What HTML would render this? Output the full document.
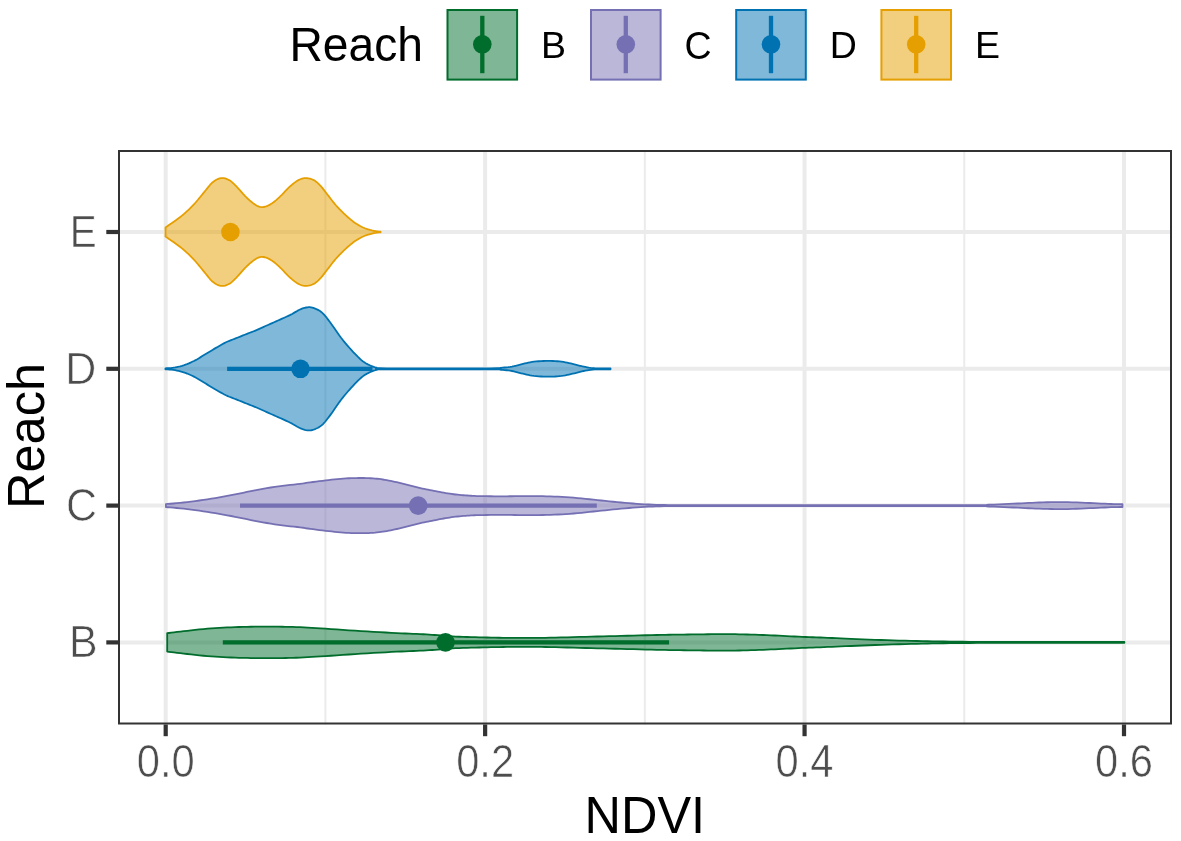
<!DOCTYPE html>
<html><head><meta charset="utf-8"><title>Reach NDVI violin plot</title>
<style>html,body{margin:0;padding:0;background:#fff;}svg{display:block;}</style></head>
<body><svg width="1181" height="841" viewBox="0 0 1181 841">
<rect width="1181" height="841" fill="#fff"/>
<line x1="325.42" y1="150" x2="325.42" y2="724.5" stroke="#EBEBEB" stroke-width="2.0"/>
<line x1="644.85" y1="150" x2="644.85" y2="724.5" stroke="#EBEBEB" stroke-width="2.0"/>
<line x1="964.28" y1="150" x2="964.28" y2="724.5" stroke="#EBEBEB" stroke-width="2.0"/>
<line x1="165.70" y1="150" x2="165.70" y2="724.5" stroke="#EBEBEB" stroke-width="4.0"/>
<line x1="485.13" y1="150" x2="485.13" y2="724.5" stroke="#EBEBEB" stroke-width="4.0"/>
<line x1="804.57" y1="150" x2="804.57" y2="724.5" stroke="#EBEBEB" stroke-width="4.0"/>
<line x1="1124.00" y1="150" x2="1124.00" y2="724.5" stroke="#EBEBEB" stroke-width="4.0"/>
<line x1="118" y1="232.00" x2="1172" y2="232.00" stroke="#EBEBEB" stroke-width="4.0"/>
<line x1="118" y1="368.80" x2="1172" y2="368.80" stroke="#EBEBEB" stroke-width="4.0"/>
<line x1="118" y1="505.60" x2="1172" y2="505.60" stroke="#EBEBEB" stroke-width="4.0"/>
<line x1="118" y1="642.40" x2="1172" y2="642.40" stroke="#EBEBEB" stroke-width="4.0"/>
<path d="M167.20,633.20 L168.91,632.99 L171.21,632.70 L173.97,632.36 L177.06,631.98 L180.34,631.59 L183.70,631.20 L187.23,630.80 L191.07,630.36 L195.10,629.91 L199.23,629.47 L203.37,629.06 L207.40,628.70 L211.35,628.39 L215.30,628.12 L219.25,627.88 L223.20,627.67 L227.15,627.47 L231.10,627.30 L235.05,627.15 L239.00,627.02 L242.95,626.91 L246.90,626.83 L250.85,626.76 L254.80,626.70 L258.78,626.66 L262.78,626.64 L266.79,626.63 L270.76,626.64 L274.68,626.66 L278.50,626.70 L282.16,626.74 L285.68,626.79 L289.13,626.86 L292.61,626.94 L296.20,627.05 L300.00,627.20 L303.91,627.38 L307.86,627.59 L311.93,627.83 L316.18,628.10 L320.71,628.39 L325.60,628.70 L330.94,629.05 L336.70,629.45 L342.73,629.87 L348.89,630.30 L355.06,630.71 L361.10,631.10 L367.17,631.47 L373.41,631.83 L379.66,632.19 L385.74,632.52 L391.48,632.83 L396.70,633.10 L401.36,633.32 L405.58,633.50 L409.46,633.66 L413.10,633.80 L416.58,633.94 L420.00,634.10 L423.28,634.27 L426.34,634.45 L429.24,634.62 L432.07,634.81 L434.90,635.00 L437.80,635.20 L440.70,635.42 L443.51,635.67 L446.33,635.92 L449.23,636.17 L452.29,636.40 L455.60,636.60 L459.21,636.76 L463.06,636.89 L467.08,637.01 L471.18,637.11 L475.28,637.20 L479.30,637.30 L483.25,637.40 L487.20,637.50 L491.15,637.59 L495.10,637.67 L499.05,637.74 L503.00,637.80 L506.95,637.84 L510.91,637.87 L514.88,637.89 L518.83,637.90 L522.77,637.91 L526.70,637.90 L530.46,637.89 L534.04,637.88 L537.61,637.86 L541.34,637.83 L545.41,637.78 L550.00,637.70 L555.22,637.59 L560.96,637.45 L567.04,637.29 L573.29,637.13 L579.53,636.96 L585.60,636.80 L591.52,636.65 L597.44,636.50 L603.35,636.35 L609.26,636.20 L615.18,636.05 L621.10,635.90 L627.17,635.74 L633.41,635.58 L639.66,635.42 L645.74,635.26 L651.48,635.12 L656.70,635.00 L661.29,634.90 L665.36,634.83 L669.09,634.76 L672.66,634.71 L676.24,634.66 L680.00,634.60 L683.93,634.54 L687.87,634.49 L691.83,634.44 L695.79,634.39 L699.75,634.34 L703.70,634.30 L707.65,634.25 L711.60,634.20 L715.55,634.15 L719.50,634.11 L723.45,634.09 L727.40,634.10 L731.35,634.14 L735.30,634.20 L739.25,634.28 L743.20,634.38 L747.15,634.49 L751.10,634.60 L755.05,634.72 L759.00,634.86 L762.95,635.01 L766.90,635.16 L770.85,635.33 L774.80,635.50 L778.78,635.69 L782.78,635.89 L786.79,636.11 L790.76,636.32 L794.68,636.52 L798.50,636.70 L802.16,636.85 L805.68,636.99 L809.13,637.11 L812.61,637.23 L816.20,637.35 L820.00,637.50 L823.91,637.66 L827.86,637.83 L831.92,638.01 L836.18,638.20 L840.71,638.40 L845.60,638.60 L850.94,638.82 L856.70,639.06 L862.73,639.31 L868.89,639.55 L875.06,639.79 L881.10,640.00 L887.05,640.19 L893.04,640.38 L899.04,640.55 L905.00,640.71 L910.90,640.86 L916.70,641.00 L922.19,641.13 L927.35,641.24 L932.45,641.34 L937.75,641.44 L943.51,641.52 L950.00,641.60 L956.51,641.67 L962.67,641.73 L969.31,641.78 L977.20,641.83 L987.17,641.87 L1000.00,641.90 L1017.87,641.92 L1040.56,641.94 L1065.33,641.94 L1089.39,641.95 L1110.00,641.95 L1124.40,641.95 L1124.40,642.85 L1110.00,642.85 L1089.39,642.85 L1065.33,642.86 L1040.56,642.86 L1017.87,642.88 L1000.00,642.90 L987.17,642.93 L977.20,642.97 L969.31,643.02 L962.67,643.07 L956.51,643.13 L950.00,643.20 L943.51,643.28 L937.75,643.36 L932.45,643.46 L927.35,643.56 L922.19,643.67 L916.70,643.80 L910.90,643.94 L905.00,644.09 L899.04,644.25 L893.04,644.42 L887.05,644.61 L881.10,644.80 L875.06,645.01 L868.89,645.25 L862.73,645.49 L856.70,645.74 L850.94,645.98 L845.60,646.20 L840.71,646.40 L836.18,646.60 L831.92,646.79 L827.86,646.97 L823.91,647.14 L820.00,647.30 L816.20,647.45 L812.61,647.57 L809.13,647.69 L805.68,647.81 L802.16,647.95 L798.50,648.10 L794.68,648.28 L790.76,648.48 L786.79,648.69 L782.78,648.91 L778.78,649.11 L774.80,649.30 L770.85,649.47 L766.90,649.64 L762.95,649.79 L759.00,649.94 L755.05,650.08 L751.10,650.20 L747.15,650.31 L743.20,650.42 L739.25,650.52 L735.30,650.60 L731.35,650.66 L727.40,650.70 L723.45,650.71 L719.50,650.69 L715.55,650.65 L711.60,650.60 L707.65,650.55 L703.70,650.50 L699.75,650.46 L695.79,650.41 L691.83,650.36 L687.87,650.31 L683.93,650.26 L680.00,650.20 L676.24,650.14 L672.66,650.09 L669.09,650.04 L665.36,649.97 L661.29,649.90 L656.70,649.80 L651.48,649.68 L645.74,649.54 L639.66,649.38 L633.41,649.22 L627.17,649.06 L621.10,648.90 L615.18,648.75 L609.26,648.60 L603.35,648.45 L597.44,648.30 L591.52,648.15 L585.60,648.00 L579.53,647.84 L573.29,647.67 L567.04,647.51 L560.96,647.35 L555.22,647.21 L550.00,647.10 L545.41,647.02 L541.34,646.97 L537.61,646.94 L534.04,646.92 L530.46,646.91 L526.70,646.90 L522.77,646.89 L518.83,646.90 L514.88,646.91 L510.91,646.93 L506.95,646.96 L503.00,647.00 L499.05,647.06 L495.10,647.13 L491.15,647.21 L487.20,647.30 L483.25,647.40 L479.30,647.50 L475.28,647.60 L471.18,647.69 L467.08,647.79 L463.06,647.91 L459.21,648.04 L455.60,648.20 L452.29,648.40 L449.23,648.63 L446.33,648.88 L443.51,649.13 L440.70,649.38 L437.80,649.60 L434.90,649.80 L432.07,649.99 L429.24,650.17 L426.34,650.35 L423.28,650.53 L420.00,650.70 L416.58,650.86 L413.10,651.00 L409.46,651.14 L405.58,651.30 L401.36,651.48 L396.70,651.70 L391.48,651.97 L385.74,652.28 L379.66,652.61 L373.41,652.97 L367.17,653.33 L361.10,653.70 L355.06,654.09 L348.89,654.50 L342.73,654.93 L336.70,655.35 L330.94,655.75 L325.60,656.10 L320.71,656.41 L316.18,656.70 L311.93,656.97 L307.86,657.21 L303.91,657.42 L300.00,657.60 L296.20,657.75 L292.61,657.86 L289.13,657.94 L285.68,658.01 L282.16,658.06 L278.50,658.10 L274.68,658.14 L270.76,658.16 L266.79,658.17 L262.78,658.16 L258.78,658.14 L254.80,658.10 L250.85,658.04 L246.90,657.97 L242.95,657.89 L239.00,657.78 L235.05,657.65 L231.10,657.50 L227.15,657.33 L223.20,657.13 L219.25,656.92 L215.30,656.68 L211.35,656.41 L207.40,656.10 L203.37,655.74 L199.23,655.33 L195.10,654.89 L191.07,654.44 L187.23,654.00 L183.70,653.60 L180.34,653.21 L177.06,652.82 L173.97,652.44 L171.21,652.10 L168.91,651.81 L167.20,651.60 Z" fill="#006D2C" fill-opacity="0.5" stroke="#006D2C" stroke-width="1.8" stroke-linejoin="round"/>
<path d="M165.90,504.10 L167.77,503.94 L170.30,503.74 L173.32,503.50 L176.67,503.21 L180.19,502.88 L183.70,502.50 L187.31,502.07 L191.16,501.59 L195.18,501.06 L199.28,500.49 L203.38,499.90 L207.40,499.30 L211.35,498.68 L215.30,498.03 L219.25,497.35 L223.20,496.65 L227.15,495.93 L231.10,495.20 L235.05,494.43 L239.00,493.63 L242.95,492.80 L246.90,491.97 L250.85,491.17 L254.80,490.40 L258.78,489.66 L262.78,488.92 L266.79,488.20 L270.76,487.51 L274.68,486.88 L278.50,486.30 L282.37,485.79 L286.34,485.33 L290.24,484.92 L293.93,484.55 L297.23,484.21 L300.00,483.90 L301.98,483.64 L303.24,483.45 L304.13,483.29 L304.97,483.14 L306.08,482.95 L307.80,482.70 L310.19,482.37 L313.00,482.00 L316.08,481.59 L319.30,481.17 L322.52,480.77 L325.60,480.40 L328.58,480.06 L331.59,479.72 L334.59,479.39 L337.57,479.09 L340.48,478.82 L343.30,478.60 L346.03,478.42 L348.68,478.27 L351.27,478.16 L353.81,478.08 L356.32,478.03 L358.80,478.00 L361.27,478.00 L363.72,478.02 L366.13,478.08 L368.49,478.16 L370.79,478.26 L373.00,478.40 L375.10,478.56 L377.11,478.76 L379.04,478.98 L380.95,479.22 L382.86,479.50 L384.80,479.80 L386.78,480.14 L388.76,480.51 L390.75,480.91 L392.74,481.33 L394.72,481.76 L396.70,482.20 L398.67,482.65 L400.64,483.13 L402.60,483.61 L404.56,484.11 L406.53,484.61 L408.50,485.10 L410.48,485.60 L412.47,486.12 L414.47,486.64 L416.46,487.15 L418.44,487.64 L420.40,488.10 L422.34,488.52 L424.25,488.92 L426.16,489.29 L428.06,489.66 L429.97,490.02 L431.90,490.40 L433.85,490.79 L435.81,491.19 L437.77,491.58 L439.75,491.97 L441.72,492.35 L443.70,492.70 L445.68,493.04 L447.66,493.37 L449.65,493.68 L451.64,493.98 L453.62,494.25 L455.60,494.50 L457.57,494.72 L459.54,494.91 L461.50,495.08 L463.46,495.23 L465.43,495.37 L467.40,495.50 L469.24,495.63 L470.92,495.74 L472.61,495.85 L474.46,495.94 L476.63,496.03 L479.30,496.10 L482.57,496.16 L486.33,496.21 L490.41,496.25 L494.66,496.28 L498.91,496.29 L503.00,496.30 L506.95,496.28 L510.90,496.24 L514.85,496.19 L518.80,496.14 L522.75,496.11 L526.70,496.10 L530.65,496.11 L534.61,496.13 L538.58,496.16 L542.53,496.21 L546.47,496.29 L550.40,496.40 L554.30,496.55 L558.18,496.72 L562.05,496.92 L565.92,497.15 L569.80,497.41 L573.70,497.70 L577.63,498.04 L581.57,498.42 L585.53,498.83 L589.49,499.26 L593.45,499.69 L597.40,500.10 L601.35,500.51 L605.30,500.92 L609.25,501.34 L613.20,501.74 L617.15,502.13 L621.10,502.50 L625.05,502.85 L629.00,503.18 L632.95,503.50 L636.90,503.80 L640.85,504.06 L644.80,504.30 L648.66,504.50 L652.41,504.67 L656.16,504.81 L660.02,504.93 L664.10,505.02 L668.50,505.10 L670.65,505.15 L669.96,505.17 L669.48,505.18 L672.29,505.16 L681.44,505.15 L700.00,505.15 L732.79,505.16 L778.30,505.17 L830.17,505.18 L882.00,505.19 L927.40,505.18 L960.00,505.15 L978.18,505.11 L986.73,505.06 L988.85,505.00 L987.76,504.92 L986.68,504.82 L988.80,504.70 L993.68,504.54 L998.67,504.35 L1003.65,504.13 L1008.53,503.91 L1013.22,503.70 L1017.60,503.50 L1021.58,503.31 L1025.23,503.13 L1028.68,502.95 L1032.06,502.78 L1035.52,502.63 L1039.20,502.50 L1043.09,502.38 L1047.07,502.27 L1051.12,502.18 L1055.24,502.11 L1059.41,502.08 L1063.60,502.10 L1067.89,502.17 L1072.31,502.30 L1076.78,502.46 L1081.21,502.64 L1085.51,502.83 L1089.60,503.00 L1093.56,503.17 L1097.47,503.36 L1101.26,503.54 L1104.85,503.72 L1108.15,503.88 L1111.10,504.00 L1113.72,504.08 L1116.07,504.13 L1118.14,504.16 L1119.92,504.18 L1121.38,504.19 L1122.50,504.20 L1122.50,507.00 L1121.38,507.01 L1119.92,507.02 L1118.14,507.04 L1116.07,507.07 L1113.72,507.12 L1111.10,507.20 L1108.15,507.32 L1104.85,507.48 L1101.26,507.66 L1097.47,507.84 L1093.56,508.03 L1089.60,508.20 L1085.51,508.37 L1081.21,508.56 L1076.78,508.74 L1072.31,508.90 L1067.89,509.03 L1063.60,509.10 L1059.41,509.12 L1055.24,509.09 L1051.12,509.02 L1047.07,508.93 L1043.09,508.82 L1039.20,508.70 L1035.52,508.57 L1032.06,508.42 L1028.68,508.25 L1025.23,508.07 L1021.58,507.89 L1017.60,507.70 L1013.22,507.50 L1008.53,507.29 L1003.65,507.07 L998.67,506.85 L993.68,506.66 L988.80,506.50 L986.68,506.38 L987.76,506.28 L988.85,506.20 L986.73,506.14 L978.18,506.09 L960.00,506.05 L927.40,506.02 L882.00,506.01 L830.17,506.02 L778.30,506.03 L732.79,506.04 L700.00,506.05 L681.44,506.05 L672.29,506.04 L669.48,506.03 L669.96,506.03 L670.65,506.05 L668.50,506.10 L664.10,506.18 L660.02,506.27 L656.16,506.39 L652.41,506.53 L648.66,506.70 L644.80,506.90 L640.85,507.14 L636.90,507.40 L632.95,507.70 L629.00,508.02 L625.05,508.35 L621.10,508.70 L617.15,509.07 L613.20,509.46 L609.25,509.86 L605.30,510.28 L601.35,510.69 L597.40,511.10 L593.45,511.51 L589.49,511.94 L585.53,512.37 L581.57,512.78 L577.63,513.16 L573.70,513.50 L569.80,513.79 L565.92,514.05 L562.05,514.28 L558.18,514.48 L554.30,514.65 L550.40,514.80 L546.47,514.91 L542.53,514.99 L538.58,515.04 L534.61,515.07 L530.65,515.09 L526.70,515.10 L522.75,515.09 L518.80,515.06 L514.85,515.01 L510.90,514.96 L506.95,514.92 L503.00,514.90 L498.91,514.91 L494.66,514.92 L490.41,514.95 L486.33,514.99 L482.57,515.04 L479.30,515.10 L476.63,515.17 L474.46,515.26 L472.61,515.35 L470.92,515.46 L469.24,515.57 L467.40,515.70 L465.43,515.83 L463.46,515.97 L461.50,516.12 L459.54,516.29 L457.57,516.48 L455.60,516.70 L453.62,516.95 L451.64,517.22 L449.65,517.52 L447.66,517.83 L445.68,518.16 L443.70,518.50 L441.72,518.85 L439.75,519.23 L437.77,519.62 L435.81,520.01 L433.85,520.41 L431.90,520.80 L429.97,521.18 L428.06,521.54 L426.16,521.91 L424.25,522.28 L422.34,522.68 L420.40,523.10 L418.44,523.56 L416.46,524.05 L414.47,524.56 L412.47,525.08 L410.48,525.60 L408.50,526.10 L406.53,526.59 L404.56,527.09 L402.60,527.59 L400.64,528.07 L398.67,528.55 L396.70,529.00 L394.72,529.44 L392.74,529.87 L390.75,530.29 L388.76,530.69 L386.78,531.06 L384.80,531.40 L382.86,531.70 L380.95,531.98 L379.04,532.23 L377.11,532.44 L375.10,532.64 L373.00,532.80 L370.79,532.94 L368.49,533.04 L366.13,533.12 L363.72,533.18 L361.27,533.20 L358.80,533.20 L356.32,533.17 L353.81,533.12 L351.27,533.04 L348.68,532.93 L346.03,532.78 L343.30,532.60 L340.48,532.38 L337.57,532.11 L334.59,531.81 L331.59,531.48 L328.58,531.14 L325.60,530.80 L322.52,530.43 L319.30,530.03 L316.08,529.61 L313.00,529.20 L310.19,528.83 L307.80,528.50 L306.08,528.25 L304.97,528.06 L304.13,527.91 L303.24,527.75 L301.98,527.56 L300.00,527.30 L297.23,526.99 L293.93,526.65 L290.24,526.28 L286.34,525.87 L282.37,525.41 L278.50,524.90 L274.68,524.32 L270.76,523.69 L266.79,523.00 L262.78,522.28 L258.78,521.54 L254.80,520.80 L250.85,520.03 L246.90,519.23 L242.95,518.40 L239.00,517.57 L235.05,516.77 L231.10,516.00 L227.15,515.27 L223.20,514.55 L219.25,513.85 L215.30,513.17 L211.35,512.52 L207.40,511.90 L203.38,511.30 L199.28,510.71 L195.18,510.14 L191.16,509.61 L187.31,509.13 L183.70,508.70 L180.19,508.32 L176.67,507.99 L173.32,507.70 L170.30,507.46 L167.77,507.26 L165.90,507.10 Z" fill="#7570B3" fill-opacity="0.5" stroke="#7570B3" stroke-width="1.8" stroke-linejoin="round"/>
<path d="M165.40,368.35 L166.46,368.27 L167.93,368.17 L169.66,368.04 L171.54,367.88 L173.43,367.67 L175.20,367.40 L176.88,367.07 L178.57,366.70 L180.27,366.28 L181.99,365.81 L183.70,365.28 L185.40,364.70 L187.10,364.06 L188.80,363.36 L190.51,362.61 L192.21,361.81 L193.91,360.98 L195.60,360.10 L197.29,359.17 L198.97,358.18 L200.65,357.14 L202.33,356.09 L204.01,355.03 L205.70,354.00 L207.40,352.98 L209.10,351.95 L210.80,350.92 L212.50,349.90 L214.20,348.89 L215.90,347.90 L217.59,346.92 L219.27,345.94 L220.95,344.98 L222.63,344.04 L224.31,343.14 L226.00,342.30 L227.69,341.53 L229.39,340.82 L231.09,340.16 L232.80,339.51 L234.50,338.87 L236.20,338.20 L237.90,337.52 L239.60,336.83 L241.31,336.14 L243.01,335.46 L244.71,334.78 L246.40,334.10 L248.09,333.43 L249.77,332.78 L251.45,332.13 L253.13,331.47 L254.81,330.80 L256.50,330.10 L258.18,329.37 L259.85,328.63 L261.52,327.86 L263.21,327.09 L264.94,326.30 L266.70,325.50 L268.51,324.70 L270.35,323.89 L272.22,323.06 L274.12,322.23 L276.05,321.37 L278.00,320.50 L280.02,319.60 L282.10,318.68 L284.22,317.74 L286.32,316.79 L288.36,315.84 L290.30,314.90 L292.15,313.93 L293.93,312.90 L295.66,311.88 L297.33,310.91 L298.95,310.03 L300.50,309.30 L301.98,308.70 L303.39,308.20 L304.74,307.80 L306.05,307.50 L307.33,307.30 L308.60,307.20 L309.84,307.22 L311.04,307.35 L312.21,307.59 L313.37,307.91 L314.53,308.32 L315.70,308.80 L316.87,309.32 L318.03,309.87 L319.18,310.51 L320.35,311.27 L321.55,312.19 L322.80,313.30 L324.08,314.62 L325.38,316.13 L326.71,317.79 L328.09,319.59 L329.51,321.50 L331.00,323.50 L332.57,325.67 L334.22,328.04 L335.93,330.53 L337.66,333.04 L339.39,335.50 L341.10,337.80 L342.80,339.97 L344.50,342.07 L346.20,344.11 L347.90,346.09 L349.60,348.02 L351.30,349.90 L353.02,351.77 L354.78,353.65 L356.54,355.47 L358.25,357.19 L359.89,358.75 L361.40,360.10 L362.76,361.21 L363.98,362.11 L365.12,362.85 L366.24,363.49 L367.38,364.09 L368.60,364.70 L369.87,365.32 L371.16,365.91 L372.47,366.45 L373.82,366.94 L375.22,367.36 L376.70,367.70 L377.19,367.95 L376.47,368.10 L375.81,368.19 L376.46,368.23 L379.71,368.26 L386.80,368.30 L399.68,368.34 L417.72,368.36 L438.34,368.37 L458.98,368.36 L477.06,368.34 L490.00,368.30 L497.17,368.25 L500.50,368.20 L501.26,368.12 L500.75,368.04 L500.23,367.93 L501.00,367.80 L502.83,367.66 L504.67,367.51 L506.50,367.34 L508.33,367.14 L510.17,366.89 L512.00,366.60 L513.83,366.23 L515.67,365.79 L517.50,365.31 L519.33,364.82 L521.17,364.34 L523.00,363.90 L524.80,363.49 L526.54,363.08 L528.29,362.68 L530.09,362.31 L531.98,361.98 L534.00,361.70 L536.21,361.47 L538.56,361.27 L541.01,361.11 L543.49,361.00 L545.94,360.92 L548.30,360.90 L550.59,360.92 L552.86,361.00 L555.10,361.11 L557.30,361.27 L559.43,361.47 L561.50,361.70 L563.47,361.98 L565.36,362.31 L567.19,362.68 L568.99,363.08 L570.78,363.49 L572.60,363.90 L574.44,364.33 L576.27,364.80 L578.11,365.29 L579.94,365.76 L581.77,366.21 L583.60,366.60 L585.38,366.95 L587.09,367.27 L588.79,367.56 L590.57,367.81 L592.48,368.03 L594.60,368.20 L597.15,368.31 L600.13,368.36 L603.24,368.38 L606.20,368.36 L608.71,368.35 L610.50,368.35 L610.50,369.25 L608.71,369.25 L606.20,369.24 L603.24,369.23 L600.13,369.24 L597.15,369.29 L594.60,369.40 L592.48,369.57 L590.57,369.79 L588.79,370.04 L587.09,370.33 L585.38,370.65 L583.60,371.00 L581.77,371.39 L579.94,371.84 L578.11,372.31 L576.27,372.80 L574.44,373.27 L572.60,373.70 L570.78,374.11 L568.99,374.52 L567.19,374.92 L565.36,375.29 L563.47,375.62 L561.50,375.90 L559.43,376.13 L557.30,376.33 L555.10,376.49 L552.86,376.60 L550.59,376.68 L548.30,376.70 L545.94,376.68 L543.49,376.60 L541.01,376.49 L538.56,376.33 L536.21,376.13 L534.00,375.90 L531.98,375.62 L530.09,375.29 L528.29,374.92 L526.54,374.52 L524.80,374.11 L523.00,373.70 L521.17,373.26 L519.33,372.78 L517.50,372.29 L515.67,371.81 L513.83,371.37 L512.00,371.00 L510.17,370.71 L508.33,370.46 L506.50,370.26 L504.67,370.09 L502.83,369.94 L501.00,369.80 L500.23,369.67 L500.75,369.56 L501.26,369.48 L500.50,369.40 L497.17,369.35 L490.00,369.30 L477.06,369.26 L458.98,369.24 L438.34,369.23 L417.72,369.24 L399.68,369.26 L386.80,369.30 L379.71,369.34 L376.46,369.37 L375.81,369.41 L376.47,369.50 L377.19,369.65 L376.70,369.90 L375.22,370.24 L373.82,370.66 L372.47,371.15 L371.16,371.69 L369.87,372.28 L368.60,372.90 L367.38,373.51 L366.24,374.11 L365.12,374.75 L363.98,375.49 L362.76,376.39 L361.40,377.50 L359.89,378.85 L358.25,380.41 L356.54,382.13 L354.78,383.95 L353.02,385.83 L351.30,387.70 L349.60,389.58 L347.90,391.51 L346.20,393.49 L344.50,395.53 L342.80,397.63 L341.10,399.80 L339.39,402.10 L337.66,404.56 L335.93,407.07 L334.22,409.56 L332.57,411.93 L331.00,414.10 L329.51,416.10 L328.09,418.01 L326.71,419.81 L325.38,421.47 L324.08,422.98 L322.80,424.30 L321.55,425.41 L320.35,426.33 L319.18,427.09 L318.03,427.73 L316.87,428.28 L315.70,428.80 L314.53,429.28 L313.37,429.69 L312.21,430.01 L311.04,430.25 L309.84,430.38 L308.60,430.40 L307.33,430.30 L306.05,430.10 L304.74,429.80 L303.39,429.40 L301.98,428.90 L300.50,428.30 L298.95,427.57 L297.33,426.69 L295.66,425.72 L293.93,424.70 L292.15,423.67 L290.30,422.70 L288.36,421.76 L286.32,420.81 L284.22,419.86 L282.10,418.92 L280.02,418.00 L278.00,417.10 L276.05,416.23 L274.12,415.37 L272.22,414.54 L270.35,413.71 L268.51,412.90 L266.70,412.10 L264.94,411.30 L263.21,410.51 L261.52,409.74 L259.85,408.97 L258.18,408.23 L256.50,407.50 L254.81,406.80 L253.13,406.13 L251.45,405.47 L249.77,404.82 L248.09,404.17 L246.40,403.50 L244.71,402.82 L243.01,402.14 L241.31,401.46 L239.60,400.77 L237.90,400.08 L236.20,399.40 L234.50,398.73 L232.80,398.09 L231.09,397.44 L229.39,396.78 L227.69,396.07 L226.00,395.30 L224.31,394.46 L222.63,393.56 L220.95,392.62 L219.27,391.66 L217.59,390.68 L215.90,389.70 L214.20,388.71 L212.50,387.70 L210.80,386.68 L209.10,385.65 L207.40,384.62 L205.70,383.60 L204.01,382.57 L202.33,381.51 L200.65,380.46 L198.97,379.42 L197.29,378.43 L195.60,377.50 L193.91,376.62 L192.21,375.79 L190.51,374.99 L188.80,374.24 L187.10,373.54 L185.40,372.90 L183.70,372.32 L181.99,371.79 L180.27,371.32 L178.57,370.90 L176.88,370.53 L175.20,370.20 L173.43,369.93 L171.54,369.72 L169.66,369.56 L167.93,369.43 L166.46,369.33 L165.40,369.25 Z" fill="#0072B2" fill-opacity="0.5" stroke="#0072B2" stroke-width="1.8" stroke-linejoin="round"/>
<path d="M165.50,227.40 L166.55,226.70 L168.00,225.74 L169.71,224.61 L171.57,223.36 L173.44,222.06 L175.20,220.80 L176.87,219.56 L178.56,218.29 L180.27,216.97 L181.98,215.61 L183.69,214.19 L185.40,212.70 L187.10,211.14 L188.80,209.53 L190.51,207.86 L192.21,206.13 L193.91,204.34 L195.60,202.50 L197.32,200.53 L199.09,198.43 L200.84,196.27 L202.56,194.14 L204.19,192.12 L205.70,190.30 L207.04,188.67 L208.25,187.15 L209.37,185.74 L210.46,184.45 L211.59,183.27 L212.80,182.20 L214.10,181.21 L215.46,180.31 L216.84,179.52 L218.23,178.87 L219.63,178.38 L221.00,178.10 L222.37,178.03 L223.74,178.16 L225.12,178.46 L226.48,178.90 L227.81,179.46 L229.10,180.10 L230.31,180.82 L231.43,181.64 L232.52,182.57 L233.64,183.64 L234.85,184.84 L236.20,186.20 L237.72,187.81 L239.37,189.67 L241.11,191.68 L242.89,193.71 L244.67,195.65 L246.40,197.40 L248.12,199.01 L249.89,200.57 L251.65,202.06 L253.37,203.40 L255.00,204.57 L256.50,205.50 L257.83,206.19 L259.01,206.67 L260.11,206.97 L261.19,207.11 L262.29,207.12 L263.50,207.00 L264.81,206.75 L266.17,206.34 L267.56,205.79 L268.98,205.12 L270.40,204.35 L271.80,203.50 L273.17,202.56 L274.53,201.51 L275.89,200.37 L277.27,199.13 L278.70,197.80 L280.20,196.40 L281.81,194.83 L283.51,193.08 L285.26,191.24 L287.01,189.41 L288.71,187.70 L290.30,186.20 L291.79,184.90 L293.21,183.71 L294.59,182.64 L295.92,181.68 L297.22,180.83 L298.50,180.10 L299.74,179.48 L300.91,178.98 L302.06,178.59 L303.20,178.32 L304.37,178.15 L305.60,178.10 L306.90,178.15 L308.26,178.32 L309.65,178.59 L311.04,178.98 L312.40,179.48 L313.70,180.10 L314.93,180.83 L316.10,181.68 L317.25,182.64 L318.40,183.71 L319.57,184.90 L320.80,186.20 L322.10,187.68 L323.46,189.34 L324.84,191.11 L326.23,192.93 L327.59,194.72 L328.90,196.40 L330.12,197.97 L331.26,199.47 L332.38,200.95 L333.52,202.43 L334.74,203.93 L336.10,205.50 L337.61,207.16 L339.25,208.90 L340.96,210.66 L342.72,212.41 L344.48,214.11 L346.20,215.70 L347.90,217.21 L349.60,218.67 L351.30,220.07 L353.00,221.40 L354.70,222.65 L356.40,223.80 L358.09,224.85 L359.77,225.82 L361.45,226.71 L363.13,227.51 L364.81,228.24 L366.50,228.90 L368.27,229.48 L370.13,229.98 L371.99,230.40 L373.77,230.76 L375.37,231.06 L376.70,231.30 L377.75,231.47 L378.58,231.55 L379.24,231.57 L379.75,231.56 L380.16,231.55 L380.50,231.55 L380.50,232.45 L380.16,232.45 L379.75,232.44 L379.24,232.43 L378.58,232.45 L377.75,232.53 L376.70,232.70 L375.37,232.94 L373.77,233.24 L371.99,233.60 L370.13,234.02 L368.27,234.52 L366.50,235.10 L364.81,235.76 L363.13,236.49 L361.45,237.29 L359.77,238.18 L358.09,239.15 L356.40,240.20 L354.70,241.35 L353.00,242.60 L351.30,243.93 L349.60,245.33 L347.90,246.79 L346.20,248.30 L344.48,249.89 L342.72,251.59 L340.96,253.34 L339.25,255.10 L337.61,256.84 L336.10,258.50 L334.74,260.07 L333.52,261.57 L332.38,263.05 L331.26,264.53 L330.12,266.03 L328.90,267.60 L327.59,269.28 L326.23,271.07 L324.84,272.89 L323.46,274.66 L322.10,276.32 L320.80,277.80 L319.57,279.10 L318.40,280.29 L317.25,281.36 L316.10,282.32 L314.93,283.17 L313.70,283.90 L312.40,284.52 L311.04,285.02 L309.65,285.41 L308.26,285.68 L306.90,285.85 L305.60,285.90 L304.37,285.85 L303.20,285.68 L302.06,285.41 L300.91,285.02 L299.74,284.52 L298.50,283.90 L297.22,283.17 L295.92,282.32 L294.59,281.36 L293.21,280.29 L291.79,279.10 L290.30,277.80 L288.71,276.30 L287.01,274.59 L285.26,272.76 L283.51,270.92 L281.81,269.17 L280.20,267.60 L278.70,266.20 L277.27,264.87 L275.89,263.63 L274.53,262.49 L273.17,261.44 L271.80,260.50 L270.40,259.65 L268.98,258.88 L267.56,258.21 L266.17,257.66 L264.81,257.25 L263.50,257.00 L262.29,256.88 L261.19,256.89 L260.11,257.02 L259.01,257.33 L257.83,257.81 L256.50,258.50 L255.00,259.43 L253.37,260.60 L251.65,261.94 L249.89,263.43 L248.12,264.99 L246.40,266.60 L244.67,268.35 L242.89,270.29 L241.11,272.32 L239.37,274.33 L237.72,276.19 L236.20,277.80 L234.85,279.16 L233.64,280.36 L232.52,281.43 L231.43,282.36 L230.31,283.18 L229.10,283.90 L227.81,284.54 L226.48,285.10 L225.12,285.54 L223.74,285.84 L222.37,285.97 L221.00,285.90 L219.63,285.62 L218.23,285.13 L216.84,284.48 L215.46,283.69 L214.10,282.79 L212.80,281.80 L211.59,280.73 L210.46,279.55 L209.37,278.26 L208.25,276.85 L207.04,275.33 L205.70,273.70 L204.19,271.88 L202.56,269.86 L200.84,267.73 L199.09,265.57 L197.32,263.47 L195.60,261.50 L193.91,259.66 L192.21,257.87 L190.51,256.14 L188.80,254.47 L187.10,252.86 L185.40,251.30 L183.69,249.81 L181.98,248.39 L180.27,247.03 L178.56,245.71 L176.87,244.44 L175.20,243.20 L173.44,241.94 L171.57,240.64 L169.71,239.39 L168.00,238.26 L166.55,237.30 L165.50,236.60 Z" fill="#E69F00" fill-opacity="0.5" stroke="#E69F00" stroke-width="1.8" stroke-linejoin="round"/>
<line x1="222.8" y1="642.40" x2="669.1" y2="642.40" stroke="#006D2C" stroke-width="4.3"/>
<circle cx="445.5" cy="642.40" r="9.3" fill="#006D2C"/>
<line x1="240.0" y1="505.60" x2="596.8" y2="505.60" stroke="#7570B3" stroke-width="4.3"/>
<circle cx="418.2" cy="505.60" r="9.3" fill="#7570B3"/>
<line x1="227.1" y1="368.80" x2="372.5" y2="368.80" stroke="#0072B2" stroke-width="4.3"/>
<circle cx="300.5" cy="368.80" r="9.3" fill="#0072B2"/>
<circle cx="230.4" cy="232.00" r="9.3" fill="#E69F00"/>
<rect x="119" y="151" width="1052" height="572.5" fill="none" stroke="#333333" stroke-width="2"/>
<line x1="106.3" y1="232.00" x2="118" y2="232.00" stroke="#333333" stroke-width="4.2"/>
<line x1="106.3" y1="368.80" x2="118" y2="368.80" stroke="#333333" stroke-width="4.2"/>
<line x1="106.3" y1="505.60" x2="118" y2="505.60" stroke="#333333" stroke-width="4.2"/>
<line x1="106.3" y1="642.40" x2="118" y2="642.40" stroke="#333333" stroke-width="4.2"/>
<line x1="165.70" y1="724.5" x2="165.70" y2="736.2" stroke="#333333" stroke-width="4.2"/>
<line x1="485.13" y1="724.5" x2="485.13" y2="736.2" stroke="#333333" stroke-width="4.2"/>
<line x1="804.57" y1="724.5" x2="804.57" y2="736.2" stroke="#333333" stroke-width="4.2"/>
<line x1="1124.00" y1="724.5" x2="1124.00" y2="736.2" stroke="#333333" stroke-width="4.2"/>
<text transform="translate(96.6,247.00) scale(0.94,1.03)" text-anchor="end" font-size="43.0" fill="#4D4D4D" stroke="#fff" stroke-width="0.6" font-family="'Liberation Sans', Arial, sans-serif">E</text>
<text transform="translate(96.3,383.80) scale(1.0,1.03)" text-anchor="end" font-size="43.0" fill="#4D4D4D" stroke="#fff" stroke-width="0.6" font-family="'Liberation Sans', Arial, sans-serif">D</text>
<text transform="translate(97.0,520.60) scale(1.0,1.065)" text-anchor="end" font-size="43.0" fill="#4D4D4D" stroke="#fff" stroke-width="0.6" font-family="'Liberation Sans', Arial, sans-serif">C</text>
<text transform="translate(97.6,657.40) scale(1.0,1.03)" text-anchor="end" font-size="43.0" fill="#4D4D4D" stroke="#fff" stroke-width="0.6" font-family="'Liberation Sans', Arial, sans-serif">B</text>
<text transform="translate(165.70,776.8) scale(0.97,1.075)" text-anchor="middle" font-size="43.0" fill="#4D4D4D" stroke="#fff" stroke-width="0.6" font-family="'Liberation Sans', Arial, sans-serif">0.0</text>
<text transform="translate(485.13,776.8) scale(0.97,1.075)" text-anchor="middle" font-size="43.0" fill="#4D4D4D" stroke="#fff" stroke-width="0.6" font-family="'Liberation Sans', Arial, sans-serif">0.2</text>
<text transform="translate(804.57,776.8) scale(0.97,1.075)" text-anchor="middle" font-size="43.0" fill="#4D4D4D" stroke="#fff" stroke-width="0.6" font-family="'Liberation Sans', Arial, sans-serif">0.4</text>
<text transform="translate(1124.00,776.8) scale(0.97,1.075)" text-anchor="middle" font-size="43.0" fill="#4D4D4D" stroke="#fff" stroke-width="0.6" font-family="'Liberation Sans', Arial, sans-serif">0.6</text>
<text transform="translate(644.8,832.6) scale(1,1.035)" text-anchor="middle" font-size="50.5" fill="#000" font-family="'Liberation Sans', Arial, sans-serif">NDVI</text>
<text transform="translate(44.2,436) rotate(-90) scale(1,1.035)" text-anchor="middle" font-size="50.5" fill="#000" font-family="'Liberation Sans', Arial, sans-serif">Reach</text>
<text transform="translate(289.5,61.2) scale(1,1.035)" font-size="46.2" fill="#000" font-family="'Liberation Sans', Arial, sans-serif">Reach</text>
<rect x="447.5" y="10.0" width="69.6" height="69.6" fill="#006D2C" fill-opacity="0.5" stroke="#006D2C" stroke-width="2"/>
<line x1="482.3" y1="15.8" x2="482.3" y2="73.2" stroke="#006D2C" stroke-width="4.3"/>
<circle cx="482.3" cy="44.3" r="9.3" fill="#006D2C"/>
<text transform="translate(541.1,57.9) scale(1,1.0)" font-size="37.5" fill="#000" font-family="'Liberation Sans', Arial, sans-serif">B</text>
<rect x="591.0" y="10.0" width="69.6" height="69.6" fill="#7570B3" fill-opacity="0.5" stroke="#7570B3" stroke-width="2"/>
<line x1="625.8" y1="15.8" x2="625.8" y2="73.2" stroke="#7570B3" stroke-width="4.3"/>
<circle cx="625.8" cy="44.3" r="9.3" fill="#7570B3"/>
<text transform="translate(684.6,58.5) scale(1,1.05)" font-size="37.5" fill="#000" font-family="'Liberation Sans', Arial, sans-serif">C</text>
<rect x="736.2" y="10.0" width="69.6" height="69.6" fill="#0072B2" fill-opacity="0.5" stroke="#0072B2" stroke-width="2"/>
<line x1="771.0" y1="15.8" x2="771.0" y2="73.2" stroke="#0072B2" stroke-width="4.3"/>
<circle cx="771.0" cy="44.3" r="9.3" fill="#0072B2"/>
<text transform="translate(829.8000000000001,57.9) scale(1,1.0)" font-size="37.5" fill="#000" font-family="'Liberation Sans', Arial, sans-serif">D</text>
<rect x="881.4" y="10.0" width="69.6" height="69.6" fill="#E69F00" fill-opacity="0.5" stroke="#E69F00" stroke-width="2"/>
<line x1="916.1999999999999" y1="15.8" x2="916.1999999999999" y2="73.2" stroke="#E69F00" stroke-width="4.3"/>
<circle cx="916.1999999999999" cy="44.3" r="9.3" fill="#E69F00"/>
<text transform="translate(975.0,57.9) scale(1,1.0)" font-size="37.5" fill="#000" font-family="'Liberation Sans', Arial, sans-serif">E</text>
</svg></body></html>
